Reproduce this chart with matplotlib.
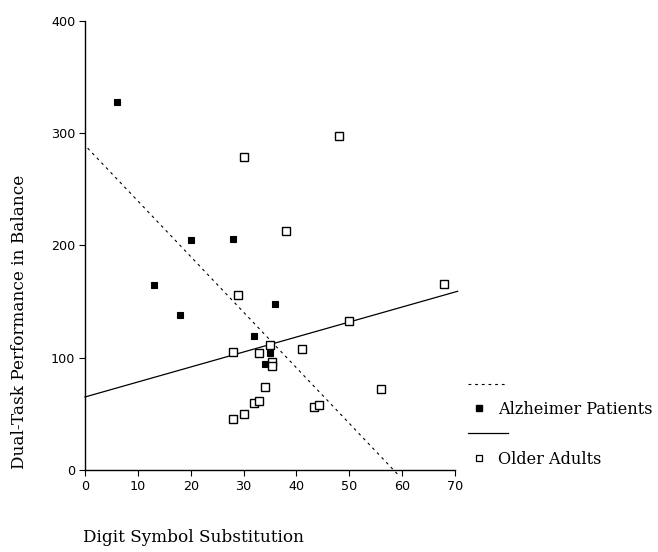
import matplotlib
matplotlib.use("Agg")
import matplotlib.pyplot as plt
from matplotlib.lines import Line2D
import numpy as np

# Data
alz_x = [6, 20, 28, 13, 18, 36, 32, 35, 34]
alz_y = [328, 205, 206, 165, 138, 148, 119, 104, 94]

old_x = [30, 38, 48, 29, 68, 50, 28, 33, 35, 35.3, 35.3, 41, 34, 32, 33, 30, 28, 43.3, 44.3, 56]
old_y = [279, 213, 297, 156, 166, 133, 105, 104, 111, 96, 93, 108, 74, 60, 61, 50, 45, 56, 58, 72]

# Regression lines (intercept, slope)
alz_fit = [289, -4.95]
old_fit = [65, 1.335]
alz_fit_range = [0.5, 59.5]
old_fit_range = [0, 70.5]

x_ticks = [0, 10, 20, 30, 40, 50, 60, 70]
y_ticks = [0, 100, 200, 300, 400]

fig = plt.figure(figsize=(6.58, 5.52), dpi=100)
W, H = 658, 552
ax = fig.add_axes([85 / W, 1 - 470 / H, (455 - 85) / W, (470 - 20.7) / H])

ax.set_xlim(0, 70)
ax.set_ylim(0, 400)

# regression lines
xa = np.array(alz_fit_range)
ax.plot(xa, alz_fit[0] + alz_fit[1] * xa, color="black", lw=0.8,
        linestyle=(0, (2.5, 3.5)), clip_on=False)
xo = np.array(old_fit_range)
ax.plot(xo, old_fit[0] + old_fit[1] * xo, color="black", lw=0.9, clip_on=False)

ax.plot(old_x, old_y, linestyle="none", marker="s", markersize=5.8,
        markerfacecolor="white", markeredgecolor="black", markeredgewidth=1.0,
        clip_on=False)
ax.plot(alz_x, alz_y, linestyle="none", marker="s", markersize=4.6,
        markerfacecolor="black", markeredgecolor="black", markeredgewidth=0.8,
        clip_on=False)

for s in ["top", "right"]:
    ax.spines[s].set_visible(False)
for s in ["left", "bottom"]:
    ax.spines[s].set_linewidth(1.0)

ax.set_xticks(x_ticks)
ax.set_yticks(y_ticks)
ax.tick_params(direction="out", length=4, width=0.8, labelsize=9.2, pad=3)
for lab in ax.get_xticklabels() + ax.get_yticklabels():
    lab.set_fontfamily("DejaVu Sans")

serif = "DejaVu Serif"
fs = 12.2
fig.text(83 / W, 1 - 537 / H, "Digit Symbol Substitution", ha="left", va="center",
         fontsize=fs, family=serif)
fig.text(20 / W, 1 - 469 / H, "Dual-Task Performance in Balance", ha="center",
         va="bottom", rotation=90, fontsize=fs, family=serif)

# custom legend
def fx(px):
    return px / W

def fy(py):
    return 1 - py / H

lfs = 11.6
fig.add_artist(Line2D([fx(468), fx(508)], [fy(384), fy(384)], color="black", lw=0.8,
                      linestyle=(0, (2.5, 3.5)), transform=fig.transFigure))
fig.add_artist(Line2D([fx(479)], [fy(408)], marker="s", markersize=3.8, color="black",
                      linestyle="none", transform=fig.transFigure))
fig.text(fx(498), fy(409), "Alzheimer Patients", ha="left", va="center",
         fontsize=lfs, family=serif)
fig.add_artist(Line2D([fx(468), fx(508)], [fy(433), fy(433)], color="black", lw=0.9,
                      transform=fig.transFigure))
fig.add_artist(Line2D([fx(479)], [fy(458)], marker="s", markersize=4.2,
                      markerfacecolor="white", markeredgecolor="black",
                      markeredgewidth=0.9, linestyle="none", transform=fig.transFigure))
fig.text(fx(498), fy(459), "Older Adults", ha="left", va="center",
         fontsize=lfs, family=serif)

fig.savefig("out.png", dpi=100)
